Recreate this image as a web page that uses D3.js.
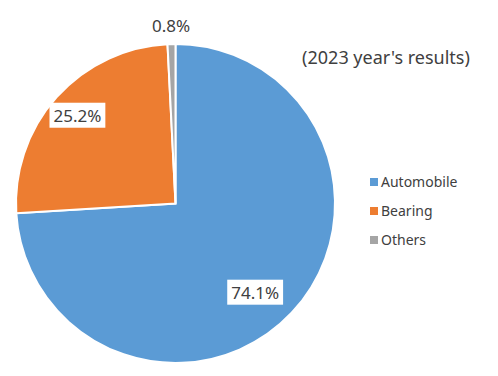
<!DOCTYPE html>
<html>
<head>
<meta charset="utf-8">
<script src="https://cdn.jsdelivr.net/npm/d3@7"></script>
<style>
  body { margin: 0; background: #fff; }
  text { font-family: "Noto Sans", "DejaVu Sans", sans-serif; fill: #404040; }
</style>
</head>
<body>
<script>
var categories = ["Automobile", "Bearing", "Others"];
var shares = [74.1, 25.2, 0.8];
var colors = ["#5B9BD5", "#ED7D31", "#A5A5A5"];
var title = "(2023 year's results)";

const WIDTH = 498;
const HEIGHT = 376;
const CX = 175.5, CY = 203.5, R = 159.5;

var svg = d3.select("body").append("svg")
  .attr("width", WIDTH)
  .attr("height", HEIGHT);

var pie = d3.pie().sort(null).value(function (d) { return d; });
var arcs = pie(shares);

var arc = d3.arc().innerRadius(0).outerRadius(R);

var g = svg.append("g").attr("transform", "translate(" + CX + "," + CY + ")");

g.selectAll("path").data(arcs).enter().append("path")
  .attr("d", arc)
  .attr("fill", function (d, i) { return colors[i]; })
  .attr("stroke", "#fff")
  .attr("stroke-width", 2);

// label placement: fraction of radius and small angle nudge (degrees)
var labelRadius = [0.75, 0.825, 1.11];
var labelNudge = [5, 0, 0];
var labels = g.selectAll(".lbl").data(arcs).enter().append("g")
  .attr("class", "lbl")
  .attr("transform", function (d, i) {
    var a = (d.startAngle + d.endAngle) / 2 + labelNudge[i] * Math.PI / 180;
    var r = R * labelRadius[i];
    return "translate(" + (Math.sin(a) * r) + "," + (-Math.cos(a) * r) + ")";
  });

labels.each(function (d, i) {
  var sel = d3.select(this);
  var t = sel.append("text")
    .attr("text-anchor", "middle")
    .attr("dy", "0.35em")
    .style("font-size", "17px")
    .text(shares[i].toFixed(1) + "%");
  if (i < 2) {
    var bb = t.node().getBBox();
    sel.insert("rect", "text")
      .attr("x", bb.x - 4).attr("y", bb.y - 1)
      .attr("width", bb.width + 8).attr("height", bb.height + 2)
      .attr("fill", "#fff");
  }
});

svg.append("text")
  .attr("x", 386).attr("y", 58)
  .attr("text-anchor", "middle")
  .attr("dy", "0.35em")
  .style("font-size", "18px")
  .text(title);

var legend = svg.append("g").selectAll("g").data(categories).enter().append("g")
  .attr("transform", function (d, i) { return "translate(370," + (182 + i * 29) + ")"; });

legend.append("rect")
  .attr("x", 0).attr("y", -4)
  .attr("width", 8).attr("height", 8)
  .attr("fill", function (d, i) { return colors[i]; });

legend.append("text")
  .attr("x", 11).attr("dy", "0.35em")
  .style("font-size", "14px")
  .text(function (d) { return d; });
</script>
</body>
</html>
